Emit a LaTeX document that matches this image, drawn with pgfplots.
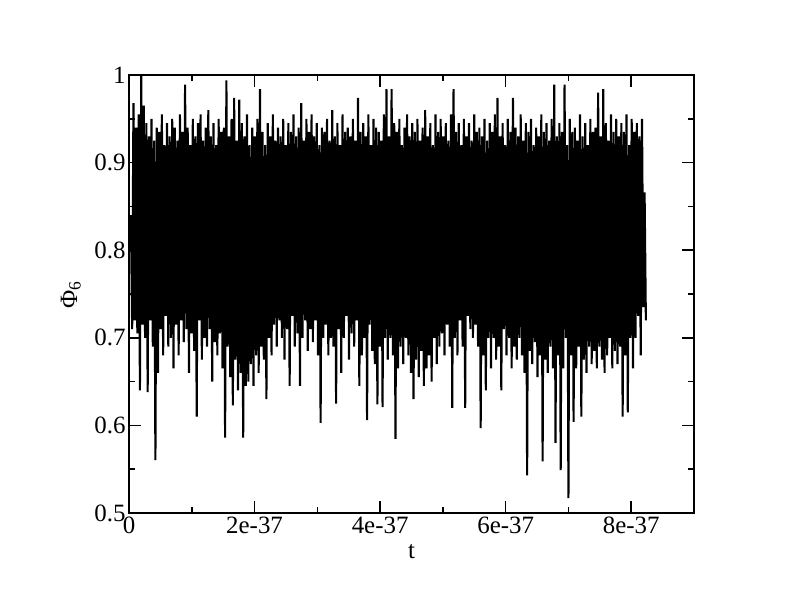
\documentclass[border=0pt]{standalone}
\usepackage{pgfplots}
\pgfplotsset{compat=1.18}
\usepackage{fontspec}
\setmainfont{Liberation Serif}
\begin{document}
\begin{tikzpicture}
\useasboundingbox (-129bp,-91bp) rectangle (663bp,513bp);
\begin{axis}[
  at={(0,0)}, anchor=south west,
  scale only axis, width=565bp, height=438bp,
  xmin=0, xmax=9, ymin=0.5, ymax=1,
  xtick={0,2,4,6,8}, xticklabels={0,2e-37,4e-37,6e-37,8e-37},
  minor x tick num=1,
  ytick={0.5,0.6,0.7,0.8,0.9,1}, yticklabels={0.5,0.6,0.7,0.8,0.9,1},
  minor y tick num=1,
  tick align=inside,
  major tick length=12bp, minor tick length=6bp,
  every tick/.style={black, line width=1.5bp},
  axis line style={line width=1.8bp},
  tick label style={font=\fontsize{25}{25}\selectfont},
  xlabel={t}, ylabel={Φ\textsubscript{6}},
  label style={font=\fontsize{25}{25}\selectfont},
  xlabel style={at={(axis description cs:0.5,-0.089)}, anchor=center},
  ylabel style={at={(axis description cs:-0.103,0.498)}, anchor=center},
  clip=true,
]
\addplot[black, line width=2.1bp, line join=bevel] table[x expr=0.03+\coordindex*0.02056, y index=0, header=false] {
0.84
0.71
0.968
0.72
0.94
0.705
0.955
0.64
0.999
0.715
0.965
0.70
0.945
0.638
0.93
0.72
0.95
0.69
0.925
0.5605
0.94
0.66
0.935
0.71
0.955
0.68
0.92
0.725
0.945
0.69
0.93
0.70
0.95
0.665
0.94
0.715
0.925
0.68
0.955
0.72
0.935
0.695
0.989
0.71
0.94
0.66
0.92
0.705
0.95
0.685
0.93
0.61
0.945
0.72
0.955
0.675
0.925
0.70
0.94
0.69
0.96
0.71
0.93
0.65
0.945
0.695
0.92
0.68
0.95
0.705
0.935
0.665
0.94
0.586
0.994
0.69
0.93
0.655
0.95
0.623
0.974
0.675
0.925
0.64
0.972
0.66
0.945
0.586
0.93
0.645
0.955
0.65
0.92
0.67
0.94
0.645
0.93
0.68
0.95
0.66
0.984
0.69
0.935
0.675
0.92
0.63
0.945
0.70
0.93
0.68
0.955
0.715
0.925
0.69
0.94
0.72
0.93
0.70
0.95
0.675
0.92
0.71
0.945
0.645
0.935
0.725
0.955
0.69
0.93
0.705
0.94
0.645
0.968
0.70
0.925
0.72
0.95
0.685
0.935
0.71
0.955
0.695
0.93
0.72
0.945
0.68
0.92
0.603
0.94
0.70
0.935
0.715
0.95
0.68
0.925
0.70
0.96
0.69
0.93
0.625
0.945
0.71
0.92
0.66
0.955
0.70
0.935
0.725
0.94
0.675
0.93
0.705
0.95
0.69
0.925
0.72
0.974
0.645
0.935
0.68
0.945
0.70
0.93
0.606
0.955
0.715
0.92
0.685
0.95
0.67
0.94
0.624
0.935
0.69
0.925
0.621
0.955
0.70
0.984
0.675
0.93
0.70
0.984
0.68
0.945
0.5845
0.935
0.665
0.95
0.69
0.92
0.67
0.94
0.70
0.955
0.68
0.93
0.66
0.945
0.63
0.935
0.675
0.95
0.655
0.925
0.685
0.94
0.645
0.96
0.665
0.93
0.68
0.945
0.65
0.92
0.70
0.955
0.67
0.935
0.69
0.95
0.705
0.93
0.68
0.945
0.715
0.925
0.69
0.955
0.62
0.984
0.70
0.935
0.68
0.945
0.72
0.92
0.69
0.95
0.62
0.93
0.725
0.945
0.71
0.925
0.70
0.955
0.715
0.935
0.69
0.94
0.597
0.93
0.68
0.95
0.64
0.925
0.70
0.945
0.665
0.935
0.70
0.955
0.675
0.974
0.69
0.93
0.64
0.945
0.71
0.92
0.68
0.95
0.70
0.935
0.665
0.974
0.69
0.94
0.675
0.93
0.70
0.955
0.68
0.925
0.66
0.945
0.543
0.935
0.685
0.95
0.67
0.92
0.695
0.94
0.655
0.93
0.68
0.955
0.559
0.935
0.675
0.945
0.66
0.925
0.69
0.95
0.665
0.989
0.58
0.93
0.68
0.945
0.549
0.935
0.665
0.989
0.70
0.92
0.517
0.95
0.68
0.935
0.604
0.94
0.665
0.925
0.69
0.955
0.61
0.93
0.675
0.945
0.66
0.92
0.69
0.95
0.67
0.935
0.685
0.94
0.665
0.98
0.69
0.93
0.675
0.984
0.66
0.945
0.68
0.925
0.70
0.955
0.665
0.935
0.685
0.95
0.67
0.93
0.69
0.945
0.61
0.935
0.68
0.955
0.615
0.92
0.70
0.95
0.665
0.935
0.70
0.945
0.725
0.93
0.68
0.95
0.735
0.866
0.72
};
\end{axis}
\end{tikzpicture}
\end{document}
